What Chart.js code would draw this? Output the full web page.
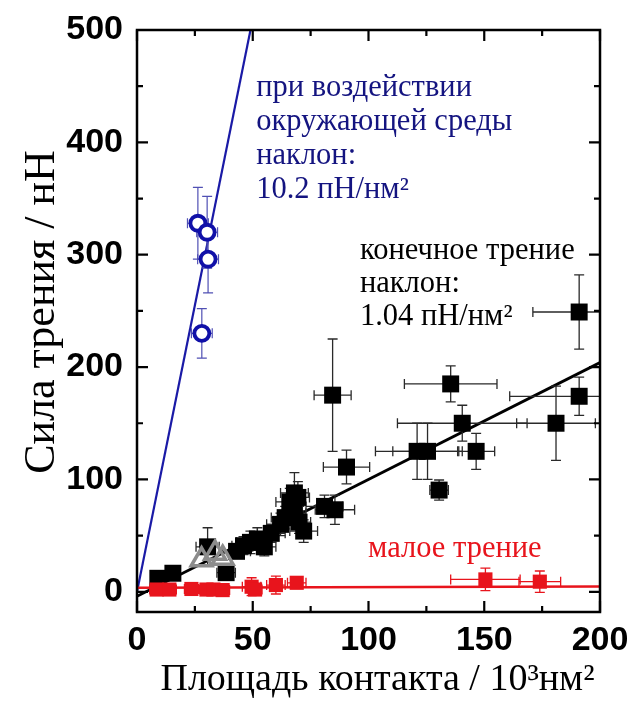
<!DOCTYPE html>
<html>
<head>
<meta charset="utf-8">
<script src="https://cdn.jsdelivr.net/npm/chart.js@4/dist/chart.umd.min.js"></script>
<style>
  html, body { margin: 0; padding: 0; background: #fff; }
</style>
</head>
<body>
<canvas id="c" width="633" height="704"></canvas>
<script>
// Axis ticks
const xTicks = [0, 50, 100, 150, 200];
const yTicks = [0, 100, 200, 300, 400, 500];
const xMinorTicks = [25, 75, 125, 175];
const yMinorTicks = [50, 150, 250, 350, 450];

// Ambient (environment) friction: open blue circles
const ambientArea  = [26.3, 30.3, 30.7, 28.0];
const ambientForce = [328, 320, 296, 230];
const ambientAreaErr  = [4.5, 4.5, 4.5, 4.5];
const ambientForceErr = [32, 32, 30, 22];
const ambientSlope = 10.2;

// Finite friction: black squares
const finiteArea  = [9, 15.5, 30.5, 38.5, 43, 46, 49, 52, 55, 58, 62, 64, 66, 68, 69.5, 68, 70, 72, 81, 85.5, 84.5, 90.5, 121, 125.5, 130.5, 135.5, 140.5, 146.5, 181, 191, 191];
const finiteForce = [12, 16.5, 40, 17, 36, 41, 44, 47, 40, 52, 60, 66, 80, 88, 84, 70, 62, 54, 76, 73, 175, 111, 125, 125, 90.5, 185, 150, 125, 150, 174, 249];
const finiteAreaErr  = [3, 3, 5, 4, 6, 5, 6, 6, 5, 6, 6, 6, 6, 6, 5, 5, 5, 6, 8, 8.5, 8, 10, 18, 15, 4, 20, 28, 8, 17, 30, 20];
const finiteForceErr = [4, 4, 17, 6, 6, 8, 10, 10, 8, 8, 10, 10, 12, 18, 14, 10, 10, 10, 10, 13, 50, 15, 25, 25, 9, 16, 16, 16, 33, 17, 33];
const finiteSlope = 1.04;
const finiteIntercept = -4;

// Transition points: open grey triangles
const transitionArea  = [27.9, 33.7, 37.0];
const transitionForce = [28.4, 34.4, 29.9];

// Low friction: red squares
const lowArea  = [8.5, 14, 23.5, 30, 33, 37, 49.5, 51, 60, 69, 150.5, 174];
const lowForce = [2, 2, 2.5, 2, 2, 1.5, 4.5, 2, 6, 8, 11, 9];
const lowAreaErr  = [3, 3, 3, 3, 3, 3, 4, 3, 4, 4, 15, 9];
const lowForceErr = [3, 3, 3, 3, 3, 3, 8, 5, 8, 4, 10, 9.5];
const lowLineStart = 3.5;
const lowLineEnd = 4.6;

const X_MIN = 0, X_MAX = 200, Y_MIN = -18, Y_MAX = 500;

const BLUE = '#1a1aa6';
const BLUE_TEXT = '#141480';
const RED = '#e8141c';

const pts = (xs, ys) => xs.map((x, i) => ({ x, y: ys[i] }));
const fitLine = (slope, intercept, x0, x1) => [
  { x: x0, y: slope * x0 + intercept },
  { x: x1, y: slope * x1 + intercept }
];

// Error bars drawn just before each dataset's markers
const errorBars = {
  id: 'errorBars',
  beforeDatasetDraw(chart, args) {
    const ds = chart.data.datasets[args.index];
    if (!ds.errX && !ds.errY) return;
    const xs = chart.scales.x, ys = chart.scales.y, a = chart.chartArea;
    const ctx = chart.ctx;
    const cap = ds.errCap || 5;
    ctx.save();
    ctx.beginPath();
    ctx.rect(a.left, a.top, a.right - a.left, a.bottom - a.top);
    ctx.clip();
    ctx.strokeStyle = ds.errColor;
    ctx.lineWidth = ds.errWidth || 1.3;
    ds.data.forEach((p, i) => {
      const px = xs.getPixelForValue(p.x), py = ys.getPixelForValue(p.y);
      const ex = ds.errX ? ds.errX[i] : 0, ey = ds.errY ? ds.errY[i] : 0;
      ctx.beginPath();
      if (ex) {
        const l = xs.getPixelForValue(p.x - ex), r = xs.getPixelForValue(p.x + ex);
        ctx.moveTo(l, py); ctx.lineTo(r, py);
        ctx.moveTo(l, py - cap); ctx.lineTo(l, py + cap);
        ctx.moveTo(r, py - cap); ctx.lineTo(r, py + cap);
      }
      if (ey) {
        const t = ys.getPixelForValue(p.y + ey), b = ys.getPixelForValue(p.y - ey);
        ctx.moveTo(px, t); ctx.lineTo(px, b);
        ctx.moveTo(px - cap, t); ctx.lineTo(px + cap, t);
        ctx.moveTo(px - cap, b); ctx.lineTo(px + cap, b);
      }
      ctx.stroke();
    });
    ctx.restore();
  }
};

// Box frame with inward ticks on all four sides, plus axis titles and notes
const frame = {
  id: 'frame',
  afterDraw(chart) {
    const { ctx, chartArea: a } = chart;
    const xs = chart.scales.x, ys = chart.scales.y;
    ctx.save();
    ctx.strokeStyle = '#000';
    ctx.lineWidth = 2.5;
    ctx.strokeRect(a.left, a.top, a.right - a.left, a.bottom - a.top);
    ctx.lineWidth = 2.2;
    ctx.beginPath();
    const xt = (v, len) => {
      const p = xs.getPixelForValue(v);
      ctx.moveTo(p, a.bottom); ctx.lineTo(p, a.bottom - len);
      ctx.moveTo(p, a.top); ctx.lineTo(p, a.top + len);
    };
    const yt = (v, len) => {
      const p = ys.getPixelForValue(v);
      ctx.moveTo(a.left, p); ctx.lineTo(a.left + len, p);
      ctx.moveTo(a.right, p); ctx.lineTo(a.right - len, p);
    };
    xTicks.forEach(v => xt(v, 11));
    xMinorTicks.forEach(v => xt(v, 6));
    yTicks.forEach(v => yt(v, 11));
    yMinorTicks.forEach(v => yt(v, 6));
    ctx.stroke();

    // axis titles
    ctx.fillStyle = '#000';
    ctx.font = '38px "Liberation Serif"';
    ctx.textAlign = 'center';
    ctx.textBaseline = 'alphabetic';
    ctx.fillText('Площадь контакта / 10³нм²', (a.left + a.right) / 2 + 9, 690);
    ctx.save();
    ctx.translate(54, (a.top + a.bottom) / 2 - 9);
    ctx.rotate(-Math.PI / 2);
    ctx.font = '44px "Liberation Serif"';
    ctx.fillText('Сила трения / нН', 0, 0);
    ctx.restore();

    // annotations
    const note = (lines, color, x, y, gap, size) => {
      ctx.fillStyle = color;
      ctx.font = size + 'px "Liberation Serif"';
      ctx.textAlign = 'left';
      const px = xs.getPixelForValue(x), py = ys.getPixelForValue(y);
      lines.forEach((s, i) => ctx.fillText(s, px, py + i * gap));
    };
    note(['при воздействии', 'окружающей среды', 'наклон:', '10.2 пН/нм²'], BLUE_TEXT, 51.5, 441, 34, 30.5);
    note(['конечное трение', 'наклон:', '1.04 пН/нм²'], '#000', 96.3, 296.6, 33, 30.5);
    note(['малое трение'], RED, 99.8, 31, 0, 30.5);
    ctx.restore();
  }
};

const tickFont = { family: '"Liberation Sans"', size: 34, weight: 'bold' };

new Chart(document.getElementById('c'), {
  type: 'scatter',
  data: {
    datasets: [
      {
        type: 'line', data: fitLine(ambientSlope, 0, 0, (Y_MAX) / ambientSlope),
        borderColor: BLUE, borderWidth: 2.2, pointRadius: 0, fill: false, order: 9
      },
      {
        type: 'line', data: fitLine(finiteSlope, finiteIntercept, 0, X_MAX),
        borderColor: '#000', borderWidth: 2.8, pointRadius: 0, fill: false, order: 8
      },
      {
        type: 'line', data: [{ x: 0, y: lowLineStart }, { x: X_MAX, y: lowLineEnd }],
        borderColor: RED, borderWidth: 2.5, pointRadius: 0, fill: false, order: 7
      },
      {
        data: pts(finiteArea, finiteForce), errX: finiteAreaErr, errY: finiteForceErr,
        errColor: '#2a2a2a', errWidth: 1.3, errCap: 5,
        pointStyle: 'rect', pointRadius: 12, backgroundColor: '#000', borderWidth: 0, order: 4
      },
      {
        data: pts(lowArea, lowForce), errX: lowAreaErr, errY: lowForceErr,
        errColor: RED, errWidth: 1.3, errCap: 5,
        pointStyle: 'rect', pointRadius: 10, backgroundColor: RED, borderWidth: 0, order: 3
      },
      {
        data: pts(transitionArea, transitionForce),
        pointStyle: 'triangle', pointRadius: 12, backgroundColor: 'rgba(255,255,255,0)',
        borderColor: '#8c8c8c', borderWidth: 3.5, order: 2
      },
      {
        data: pts(ambientArea, ambientForce), errX: ambientAreaErr, errY: ambientForceErr,
        errColor: '#5050b4', errWidth: 1.2, errCap: 5,
        pointStyle: 'circle', pointRadius: 7.5, backgroundColor: '#fff',
        borderColor: '#1010a8', borderWidth: 3.8, order: 1
      }
    ]
  },
  options: {
    responsive: false,
    animation: false,
    layout: { padding: { top: 30, right: 33, left: 0, bottom: 0 } },
    plugins: { legend: { display: false }, tooltip: { enabled: false } },
    scales: {
      x: {
        type: 'linear', min: X_MIN, max: X_MAX,
        grid: { display: false, drawTicks: false }, border: { display: false },
        afterBuildTicks: s => { s.ticks = xTicks.map(v => ({ value: v })); },
        afterFit: s => { s.height = 92; s.paddingLeft = 0; s.paddingRight = 0; },
        ticks: { font: tickFont, color: '#000', padding: 8, maxRotation: 0, autoSkip: false }
      },
      y: {
        type: 'linear', min: Y_MIN, max: Y_MAX,
        grid: { display: false, drawTicks: false }, border: { display: false },
        afterBuildTicks: s => { s.ticks = yTicks.map(v => ({ value: v })); },
        afterFit: s => { s.width = 137; s.paddingTop = 0; s.paddingBottom = 0; },
        ticks: { font: tickFont, color: '#000', padding: 14, autoSkip: false }
      }
    }
  },
  plugins: [errorBars, frame]
});
</script>
</body>
</html>
